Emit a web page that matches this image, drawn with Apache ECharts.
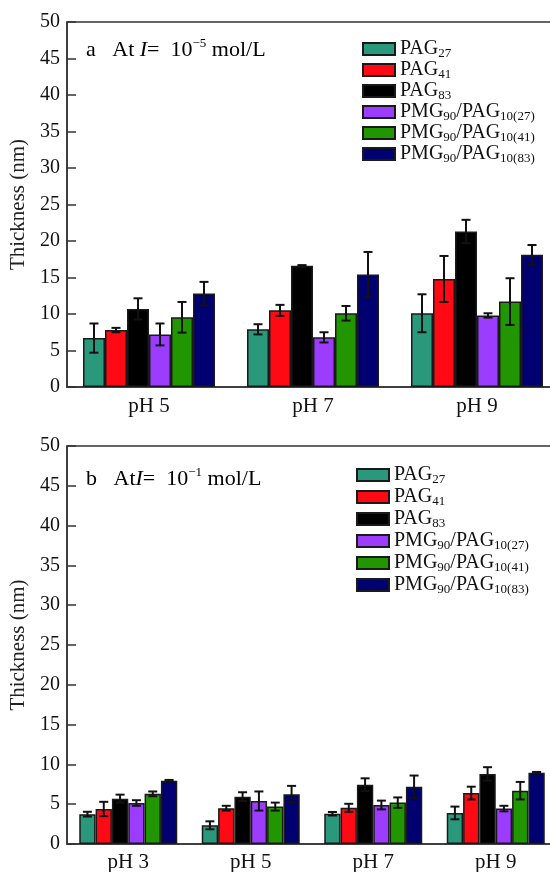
<!DOCTYPE html>
<html>
<head>
<meta charset="utf-8">
<script src="https://cdn.jsdelivr.net/npm/echarts@6/dist/echarts.min.js"></script>
<style>
  html, body { margin: 0; padding: 0; background: #fff; }
  #chart { width: 550px; height: 872px; }
</style>
</head>
<body>
<div id="chart"></div>
<script>
// Film thickness (nm) of PAG homopolymers and PMG/PAG diblocks vs pH
const seriesNames = ['PAG27', 'PAG41', 'PAG83', 'PMG90/PAG10(27)', 'PMG90/PAG10(41)', 'PMG90/PAG10(83)'];
const seriesColors = ['#2A987A', '#FF0A14', '#000000', '#9B3CFF', '#229600', '#000070'];

// Panel a: ionic strength 10^-5 mol/L
const catsA = ['pH 5', 'pH 7', 'pH 9'];
const pag27A = [6.7, 7.9, 10.1];
const pag41A = [7.8, 10.5, 14.8];
const pag83A = [10.7, 16.6, 21.3];
const pmg27A = [7.2, 6.8, 9.8];
const pmg41A = [9.55, 10.1, 11.7];
const pmg83A = [12.8, 15.4, 18.1];
const pag27ErrA = [2.0, 0.7, 2.6];
const pag41ErrA = [0.3, 0.75, 3.15];
const pag83ErrA = [1.45, 0.1, 1.6];
const pmg27ErrA = [1.5, 0.7, 0.3];
const pmg41ErrA = [2.1, 1.0, 3.2];
const pmg83ErrA = [1.6, 3.1, 1.35];

// Panel b: ionic strength 10^-1 mol/L
const catsB = ['pH 3', 'pH 5', 'pH 7', 'pH 9'];
const pag27B = [3.75, 2.35, 3.8, 3.9];
const pag41B = [4.4, 4.5, 4.55, 6.4];
const pag83B = [5.7, 5.95, 7.45, 8.8];
const pmg27B = [5.15, 5.4, 4.9, 4.45];
const pmg41B = [6.3, 4.7, 5.2, 6.7];
const pmg83B = [7.95, 6.25, 7.2, 8.95];
const pag27ErrB = [0.3, 0.5, 0.22, 0.8];
const pag41ErrB = [0.9, 0.3, 0.5, 0.8];
const pag83ErrB = [0.5, 0.55, 0.8, 0.85];
const pmg27ErrB = [0.35, 1.2, 0.55, 0.35];
const pmg41ErrB = [0.3, 0.5, 0.65, 1.1];
const pmg83ErrB = [0.1, 1.05, 1.4, 0.1];

const yTicks = [0, 5, 10, 15, 20, 25, 30, 35, 40, 45, 50];

const valuesA = [pag27A, pag41A, pag83A, pmg27A, pmg41A, pmg83A];
const errorsA = [pag27ErrA, pag41ErrA, pag83ErrA, pmg27ErrA, pmg41ErrA, pmg83ErrA];
const valuesB = [pag27B, pag41B, pag83B, pmg27B, pmg41B, pmg83B];
const errorsB = [pag27ErrB, pag41ErrB, pag83ErrB, pmg27ErrB, pmg41ErrB, pmg83ErrB];

const FONT = "'Liberation Serif', 'Times New Roman', serif";
const AXIS_COLOR = '#333';
const GAP_A = 0.195;
const GAP_B = 0.20;

function richName(name) {
  // digits (and bracketed digits) become subscripts
  return name.replace(/(\d+(?:\(\d+\))?)|([^\d]+)/g, (m, d, t) => d ? '{s|' + d + '}' : '{m|' + t + '}');
}

const legendRich = {
  m: { fontFamily: FONT, fontSize: 20, color: '#111', lineHeight: 22, verticalAlign: 'middle' },
  s: { fontFamily: FONT, fontSize: 13, color: '#111', lineHeight: 22, verticalAlign: 'bottom' }
};

function makeLegend(left, top, gap) {
  return {
    data: seriesNames,
    orient: 'vertical',
    left: left,
    top: top,
    padding: 0,
    itemWidth: 32,
    itemHeight: 12,
    itemGap: gap,
    icon: 'rect',
    selectedMode: false,
    formatter: richName,
    textStyle: { fontFamily: FONT, fontSize: 20, color: '#111', rich: legendRich }
  };
}

function yAxisFor(gridIndex) {
  return {
    gridIndex: gridIndex,
    type: 'value',
    min: 0, max: 50, interval: 5,
    name: 'Thickness (nm)',
    nameLocation: 'middle',
    nameGap: 38,
    nameTextStyle: { fontFamily: FONT, fontSize: 21, color: '#222' },
    axisLine: { show: true, lineStyle: { color: AXIS_COLOR, width: 1.5 } },
    axisTick: { show: true, inside: true, length: 9, lineStyle: { color: AXIS_COLOR, width: 1.5 } },
    axisLabel: { fontFamily: FONT, fontSize: 20, color: '#111', margin: 7,
      formatter: v => yTicks.includes(v) ? String(v) : '' },
    splitLine: { show: false }
  };
}

function xAxisFor(gridIndex, cats, margin) {
  return {
    gridIndex: gridIndex,
    type: 'category',
    data: cats,
    axisLine: { lineStyle: { color: AXIS_COLOR, width: 1.5 } },
    axisTick: { show: false },
    axisLabel: { fontFamily: FONT, fontSize: 21, color: '#111', margin: margin },
    splitLine: { show: false }
  };
}

function barSeries(gridIndex, values, gap) {
  return values.map((vals, k) => ({
    name: seriesNames[k],
    type: 'bar',
    xAxisIndex: gridIndex,
    yAxisIndex: gridIndex,
    data: vals,
    barGap: '0%',
    barCategoryGap: (gap * 100) + '%',
    itemStyle: { color: seriesColors[k], borderColor: '#1a1a1a', borderWidth: 1.5 },
    emphasis: { disabled: true },
    z: 2
  }));
}

function errorSeries(gridIndex, values, errors, gap) {
  const data = [];
  values.forEach((vals, k) => vals.forEach((v, c) => data.push([c, k, v, errors[k][c]])));
  return {
    type: 'custom',
    xAxisIndex: gridIndex,
    yAxisIndex: gridIndex,
    encode: { x: 0, y: 2 },
    data: data,
    z: 5,
    silent: true,
    renderItem: function (params, api) {
      const c = api.value(0), k = api.value(1), v = api.value(2), e = api.value(3);
      const band = api.size([1, 0])[0];
      const barW = band * (1 - gap) / seriesNames.length;
      const x = api.coord([c, v])[0] + (k - (seriesNames.length - 1) / 2) * barW;
      const yHi = api.coord([c, v + e])[1];
      const yLo = api.coord([c, v - e])[1];
      const cap = 4.5;
      const st = { stroke: '#111', lineWidth: 2 };
      return {
        type: 'group',
        children: [
          { type: 'line', shape: { x1: x, y1: yHi, x2: x, y2: yLo }, style: st },
          { type: 'line', shape: { x1: x - cap, y1: yHi, x2: x + cap, y2: yHi }, style: st },
          { type: 'line', shape: { x1: x - cap, y1: yLo, x2: x + cap, y2: yLo }, style: st }
        ]
      };
    }
  };
}

const annotRich = {
  m: { fontFamily: FONT, fontSize: 22, color: '#111', lineHeight: 24, verticalAlign: 'bottom' },
  i: { fontFamily: FONT, fontSize: 22, fontStyle: 'italic', color: '#111', lineHeight: 24, verticalAlign: 'bottom' },
  p: { fontFamily: FONT, fontSize: 13, color: '#111', lineHeight: 24, verticalAlign: 'top' }
};

const chart = echarts.init(document.getElementById('chart'), null, { renderer: 'canvas' });
chart.setOption({
  animation: false,
  backgroundColor: '#fff',
  grid: [
    { left: 67, top: 22, width: 492, height: 365, show: true, borderColor: AXIS_COLOR, borderWidth: 1.5,
      backgroundColor: 'transparent', outerBoundsMode: 'none', containLabel: false },
    { left: 67, top: 446, width: 490, height: 398, show: true, borderColor: AXIS_COLOR, borderWidth: 1.5,
      backgroundColor: 'transparent', outerBoundsMode: 'none', containLabel: false }
  ],
  legend: [makeLegend(362, 39, 0), makeLegend(356, 465, 1)],
  xAxis: [xAxisFor(0, catsA, 9), xAxisFor(1, catsB, 8)],
  yAxis: [yAxisFor(0), yAxisFor(1)],
  graphic: [
    { type: 'text', left: 86, top: 37, z: 10,
      style: { text: '{m|a   At }{i|I}{m|=  10}{p|−5}{m| mol/L}', rich: annotRich } },
    { type: 'text', left: 86, top: 466, z: 10,
      style: { text: '{m|b   At}{i|I}{m|=  10}{p|−1}{m| mol/L}', rich: annotRich } }
  ],
  series: [
    ...barSeries(0, valuesA, GAP_A),
    ...barSeries(1, valuesB, GAP_B),
    errorSeries(0, valuesA, errorsA, GAP_A),
    errorSeries(1, valuesB, errorsB, GAP_B)
  ]
});
</script>
</body>
</html>
